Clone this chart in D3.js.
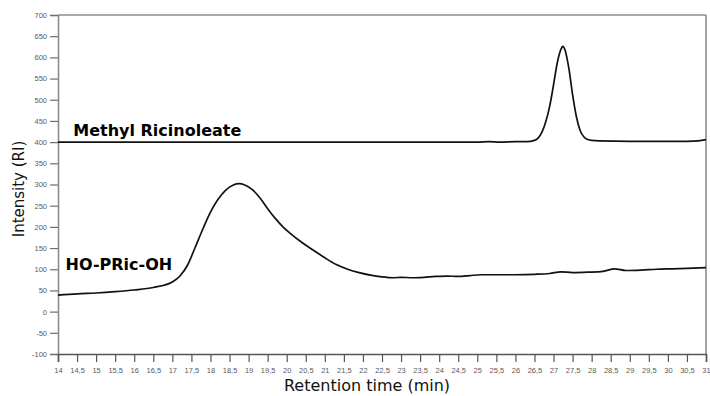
<!DOCTYPE html>
<html><head><meta charset="utf-8">
<script src="https://cdn.jsdelivr.net/npm/d3@7"></script>
<style>
html,body{margin:0;padding:0;background:#fff;}
svg{display:block;}
</style></head>
<body>
<svg id="chart" width="710" height="396"></svg>
<script>
// ---- data ----
const methylX = [14,15,16,17,18,19,20,21,22,23,24,25,25.3,25.6,26,26.3,26.5,26.6,26.7,26.8,26.9,27.0,27.1,27.2,27.24,27.3,27.4,27.5,27.6,27.7,27.8,27.9,28.0,28.2,29,30,30.5,30.8,31];
const methylY = [400,400,400,400,400,400,400,400,400,400,400,400,401,400,401,401,404,410,424,449,485,535,588,620,626,618,575,512,460,427,412,406,404,403,402,402,402,403,406];

const hoX = [14,14.5,15,15.5,16,16.5,17,17.2,17.4,17.6,17.8,18.0,18.2,18.4,18.6,18.75,18.9,19.1,19.3,19.5,19.7,19.9,20.1,20.4,20.7,21.0,21.3,21.6,21.9,22.2,22.5,22.8,23.0,23.3,23.6,23.9,24.2,24.5,24.8,25.1,25.5,26.0,26.5,26.9,27.2,27.5,27.9,28.3,28.6,28.9,29.3,29.7,30.1,30.5,31];
const hoY = [39,42,44,47,51,57,70,84,110,152,195,235,265,287,299,302,299,288,268,243,220,200,184,163,145,127,111,100,92,86,82,80,81,80,81,83,84,83,85,87,87,87,88,90,94,92,93,95,101,97,98,100,101,102,104];

const xTicks = d3.range(14, 31.001, 0.5);
const yTicks = d3.range(-100, 701, 50);
const seriesLabels = ["Methyl Ricinoleate", "HO-PRic-OH"];
const xTitle = "Retention time (min)";
const yTitle = "Intensity (RI)";

// ---- layout ----
const W = 710, H = 396;
const m = {left:58, top:15, right:4, bottom:42};
const svg = d3.select("#chart");
const x = d3.scaleLinear().domain([14,31]).range([m.left, W-m.right]);
const y = d3.scaleLinear().domain([-100,700]).range([H-m.bottom, m.top]);

const fmt = v => String(+v.toFixed(1)).replace(".", ",");

// frame (top & right)
svg.append("line").attr("x1",x(14)).attr("x2",x(31)).attr("y1",y(700)).attr("y2",y(700))
  .attr("stroke","#8c8c8c").attr("stroke-width",1.6);
svg.append("line").attr("x1",x(31)).attr("x2",x(31)).attr("y1",y(700)).attr("y2",y(-100))
  .attr("stroke","#8c8c8c").attr("stroke-width",1.6);

// y axis
const ya = svg.append("g").attr("transform",`translate(${m.left},0)`)
  .call(d3.axisLeft(y).tickValues(yTicks).tickSize(8).tickPadding(3).tickFormat(d=>String(d)));
ya.select(".domain").attr("stroke","#8c8c8c").attr("stroke-width",1.6);
ya.selectAll(".tick line").attr("stroke","#6f6f6f").attr("stroke-width",1.2);
ya.selectAll("text").attr("fill","#5a5a5a").style("font-family","'Liberation Sans',Arial,sans-serif").style("font-size","7.5px");

// x axis
const xa = svg.append("g").attr("transform",`translate(0,${H-m.bottom})`)
  .call(d3.axisBottom(x).tickValues(xTicks).tickSize(8).tickPadding(6).tickFormat(fmt));
xa.select(".domain").attr("stroke","#555").attr("stroke-width",1.6);
xa.selectAll(".tick line").attr("stroke","#555").attr("stroke-width",1.2);
xa.selectAll("text").attr("fill","#5a5a5a").style("font-family","'Liberation Sans',Arial,sans-serif").style("font-size","7.5px");

// series lines
const line = d3.line().x(d=>x(d[0])).y(d=>y(d[1])).curve(d3.curveMonotoneX);
const methyl = methylX.map((v,i)=>[v,methylY[i]]);
const ho = hoX.map((v,i)=>[v,hoY[i]]);
[methyl, ho].forEach(s=>{
  svg.append("path").datum(s).attr("d",line).attr("fill","none")
    .attr("stroke","#111").attr("stroke-width",1.7).attr("stroke-linejoin","round");
});

// series labels
svg.append("text").attr("x",x(14.4)).attr("y",y(400)-6).text(seriesLabels[0])
  .style("font-family","'DejaVu Sans',Verdana,sans-serif").style("font-weight","bold").style("font-size","16px").attr("fill","#000");
svg.append("text").attr("x",x(14.2)).attr("y",y(100)+1).text(seriesLabels[1])
  .style("font-family","'DejaVu Sans',Verdana,sans-serif").style("font-weight","bold").style("font-size","16px").attr("fill","#000");

// axis titles
svg.append("text").attr("x",367).attr("y",391).attr("text-anchor","middle").text(xTitle)
  .style("font-family","'DejaVu Sans',Verdana,sans-serif").style("font-size","16px").attr("fill","#111");
svg.append("text").attr("transform","translate(24,189) rotate(-90)").attr("text-anchor","middle").text(yTitle)
  .style("font-family","'DejaVu Sans',Verdana,sans-serif").style("font-size","15px").attr("fill","#111");
</script>
</body></html>
